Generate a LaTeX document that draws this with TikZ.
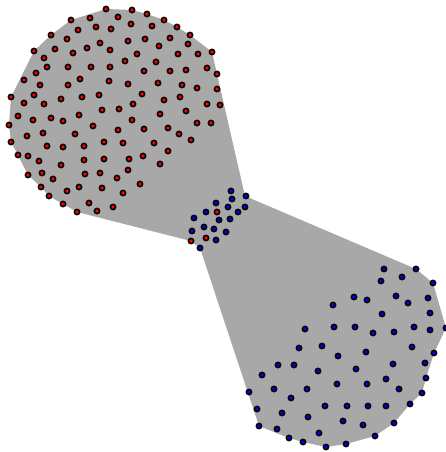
\documentclass[tikz,border=0pt]{standalone}
\begin{document}
\begin{tikzpicture}[x=1pt,y=-1pt,
  vtx/.style={circle,draw=black,line width=1.6pt,inner sep=0pt,minimum size=5.2pt},
  rednode/.style={vtx,fill=red},
  bluenode/.style={vtx,fill=blue}]
\definecolor{edgegray}{HTML}{A8A8A8}
\useasboundingbox (0,0) rectangle (446,452);
\fill[edgegray] (106,9)--(132,10)--(147,14)--(164,20)--(177,27)--(190,35)--(212,52)--(217,74)--(245,196)
 --(416,269)--(433,283)--(446,328)--(434,353)--(426,378)--(422,393)--(410,404)--(394,423)--(375,436)
 --(346,444)--(326,447)--(303,442)--(289,438)--(259,426)--(200,248)--(191,241)--(77,212)--(63,204)
 --(49,196)--(41,187)--(28,175)--(18,155)--(11,142)--(9,125)--(11,97)--(34,51)--(51,35)--(71,20)--cycle;
\foreach \x/\y [count=\i] in {106/9,132/10,147/14,90/18,118/17,71/20,164/20,131/24,152/26,96/27,111/29,177/27,78/30,51/35,190/35,67/39,100/43,128/41,145/39,170/38,188/44,87/48,55/49,159/46,110/50,34/51,73/53,212/52,137/54,178/54,198/54,44/58,125/61,156/62,47/67,68/67,91/67,110/67,144/71,170/71,186/70,207/68,36/73,217/74,80/79,109/81,24/80,40/85,68/85,128/84,158/83,182/85,197/88,217/89,142/94,11/97,34/95,61/99,82/97,99/95,164/100,180/97,24/103,44/104,133/104,207/104,220/105,102/110,119/109,186/111,18/116,79/115,160/114,51/118,33/120,63/121,132/120,197/123,211/123,9/125,93/126,168/128,118/130,144/129,43/133,75/134,27/136,179/134,191/140,11/142,104/142,123/143,154/143,47/146,63/147,84/146,168/151,18/155,28/156,143/156,129/159,104/159,84/160,39/161,61/165,160/164,128/170,100/173,85/174,42/173,28/175,53/179,117/178,140/184,41/187,79/187,102/188,67/191,123/193,49/196,63/204,89/203,113/207,97/211,77/212,217/212,206/238,191/241}
  {\node[rednode] (r\i) at (\x,\y) {};}
\foreach \x/\y [count=\i] in {231/191,246/196,232/199,216/203,245/207,228/207,206/212,238/212,194/218,219/220,230/219,204/227,214/229,192/231,226/232,216/240,200/248,
384/269,416/269,402/277,381/281,433/283,354/297,367/300,396/296,408/303,428/298,333/305,382/314,430/313,305/329,334/327,355/327,373/333,394/332,414/327,430/330,446/328,299/348,322/346,338/356,366/352,412/347,434/353,278/365,294/365,318/371,356/369,393/364,425/363,262/375,337/384,367/384,386/379,426/378,249/392,274/389,291/398,307/389,399/389,422/393,257/409,282/413,308/417,325/406,347/406,368/406,386/406,410/404,343/421,363/425,394/423,259/426,277/429,289/438,303/442,319/433,326/447,346/444,375/436}
  {\node[bluenode] (b\i) at (\x,\y) {};}
\end{tikzpicture}
\end{document}
